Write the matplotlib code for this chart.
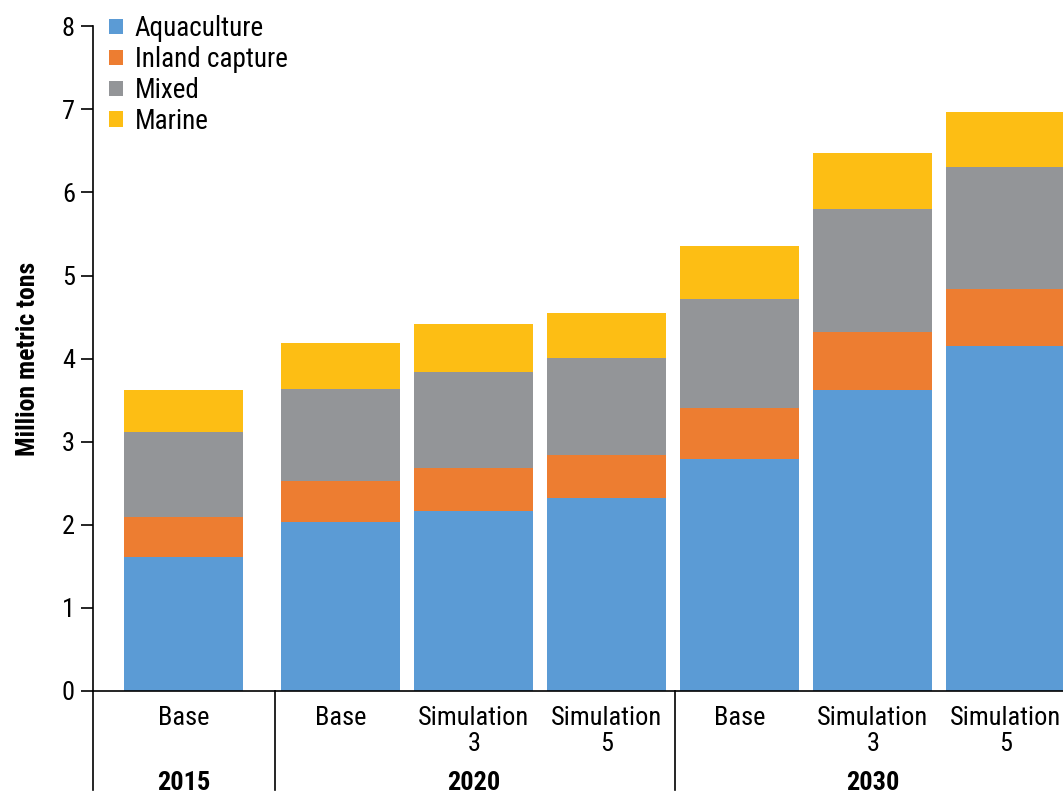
import matplotlib.pyplot as plt
import numpy as np
from matplotlib import transforms

plt.rcParams['font.family'] = ['Roboto Condensed', 'Liberation Sans', 'DejaVu Sans']

# data (million metric tons)
scenarios = ['Base', 'Base', 'Simulation\n3', 'Simulation\n5', 'Base', 'Simulation\n3', 'Simulation\n5']
years = ['2015', '2020', '2030']
aquaculture = [1.61, 2.03, 2.17, 2.32, 2.79, 3.62, 4.15]
inland = [0.48, 0.50, 0.51, 0.52, 0.62, 0.70, 0.69]
mixed = [1.03, 1.10, 1.16, 1.17, 1.31, 1.48, 1.47]
marine = [0.50, 0.56, 0.58, 0.54, 0.64, 0.67, 0.66]

colors = ['#5B9BD5', '#ED7D31', '#939598', '#FDBE14']
names = ['Aquaculture', 'Inland capture', 'Mixed', 'Marine']

pos = np.array([0, 1.18, 2.18, 3.18, 4.18, 5.18, 6.18])
width = 0.895

fig = plt.figure(figsize=(10.63, 7.96), dpi=100)
ax = fig.add_axes([0.0875, 0.132, 0.9125, 0.835])

bottom = np.zeros(len(pos))
for vals, c, n in zip([aquaculture, inland, mixed, marine], colors, names):
    ax.bar(pos, vals, width, bottom=bottom, color=c, label=n, linewidth=0)
    bottom += np.array(vals)

ax.set_xlim(-0.684, 6.61)
ax.set_ylim(0, 8)
ax.set_yticks(range(9))
ax.tick_params(axis='y', labelsize=19, length=9, width=1.2, pad=4)
ax.set_xticks(pos)
ax.set_xticklabels(scenarios, fontsize=19, va='top', linespacing=1.1)
ax.tick_params(axis='x', length=0, pad=11)

for s in ['top', 'right']:
    ax.spines[s].set_visible(False)
ax.spines['left'].set_linewidth(1.2)
ax.spines['bottom'].set_linewidth(1.2)

ax.set_ylabel('Million metric tons', fontsize=18.5, fontweight='bold', labelpad=16)

# group separators below the axis
trans = transforms.blended_transform_factory(ax.transData, ax.transAxes)
for x in [-0.684, 0.684, 3.69]:
    ax.plot([x, x], [0, -0.149], color='black', lw=1.2, transform=trans, clip_on=False)

group_x = [pos[0], (pos[1] + pos[3]) / 2, (pos[4] + pos[6]) / 2]
for x, y in zip(group_x, years):
    ax.text(x, -0.138, y, transform=trans, ha='center', va='center',
            fontsize=19, fontweight='bold')

ax.legend(loc='upper left', bbox_to_anchor=(-0.003, 1.045), frameon=False,
          fontsize=19.5, handlelength=0.5, handleheight=0.5, handletextpad=0.45,
          labelspacing=0.14, borderaxespad=0.3)

fig.savefig('out.png', dpi=100)
